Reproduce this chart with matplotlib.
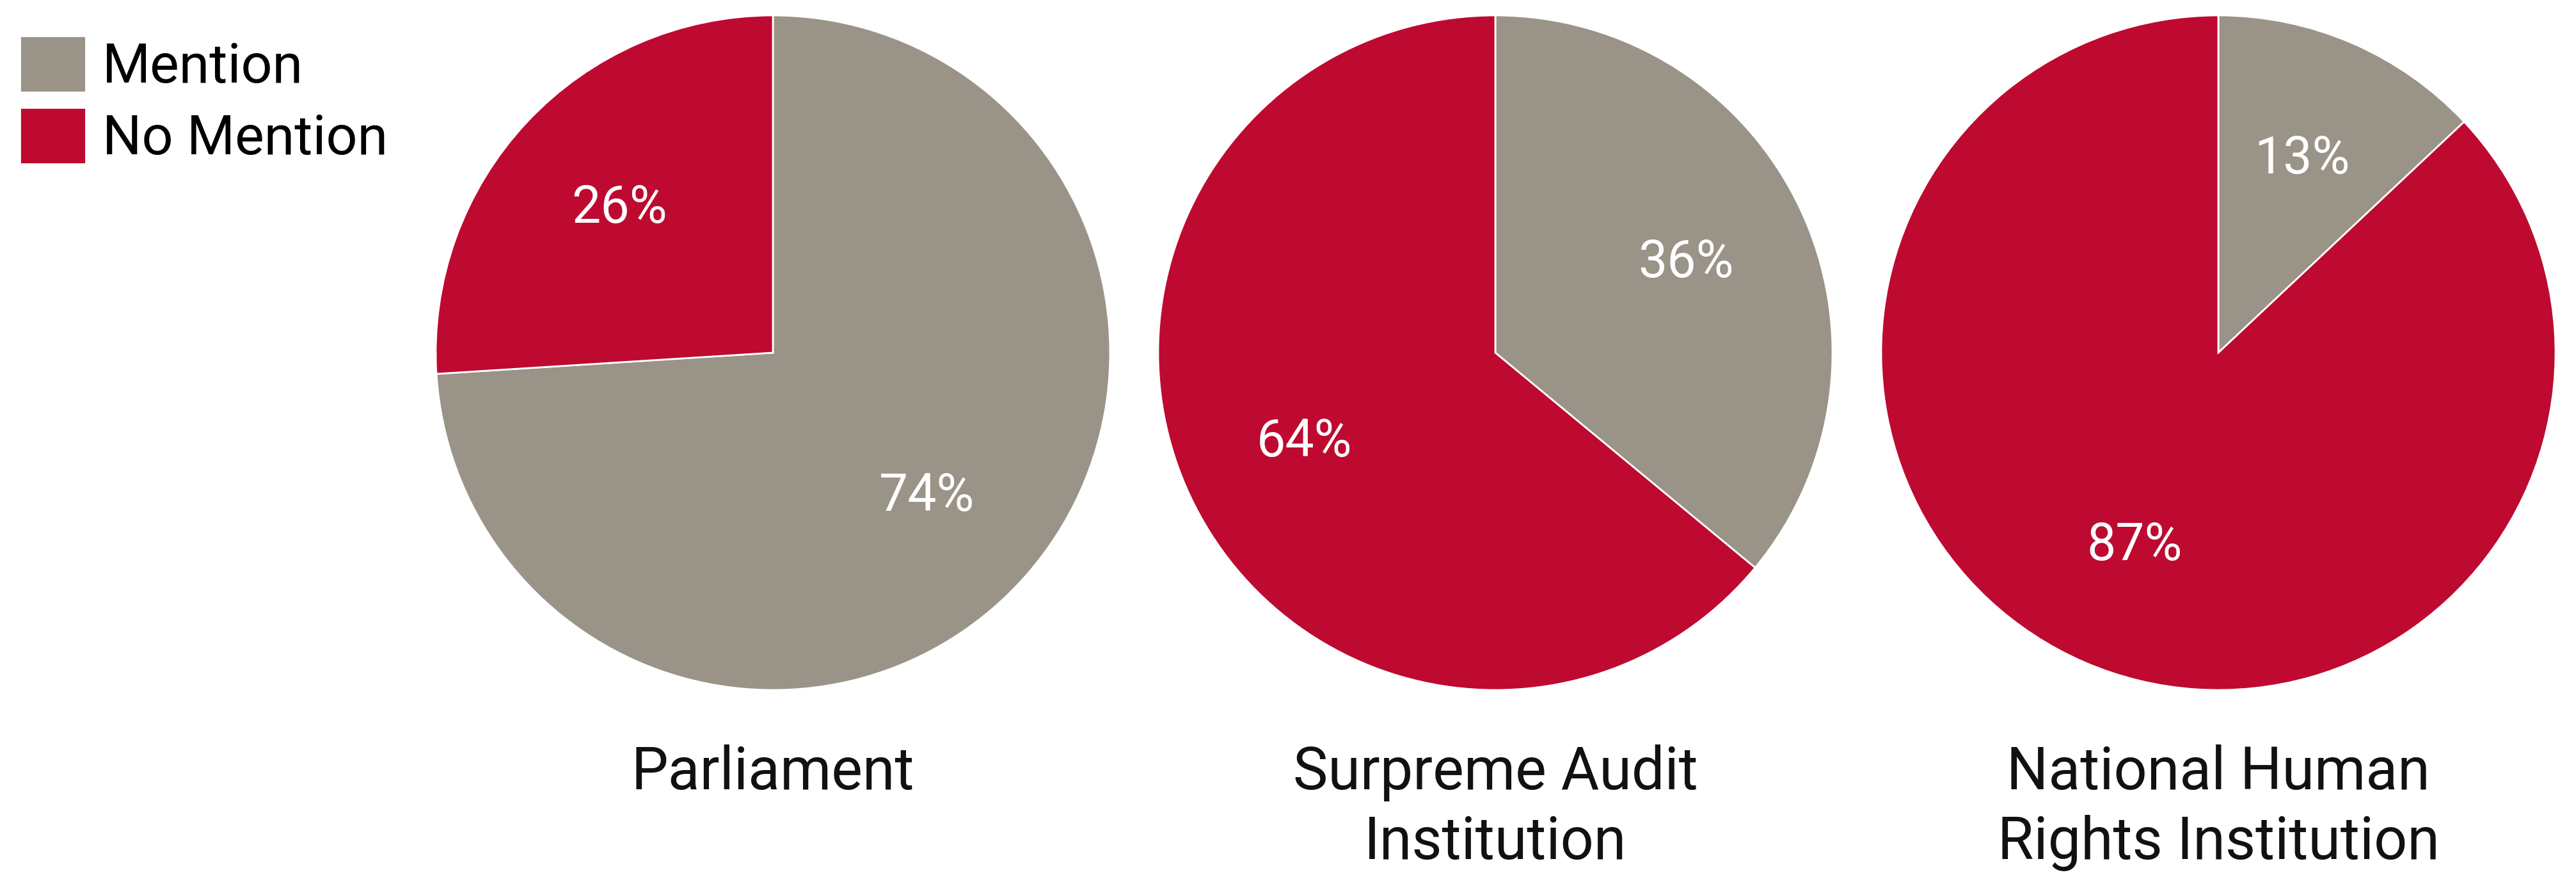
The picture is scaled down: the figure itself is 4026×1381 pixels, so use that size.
import matplotlib.pyplot as plt

plt.rcParams['font.family'] = ['Roboto', 'DejaVu Sans']

categories = ['Mention', 'No Mention']
institutions = ['Parliament', 'Surpreme Audit\nInstitution', 'National Human\nRights Institution']
mention = [74, 36, 13]
no_mention = [26, 64, 87]
colors = ['#9a9387', '#be0a30']

W, H = 4026, 1381
fig = plt.figure(figsize=(W / 100, H / 100), dpi=100)

# pie centres (pixels from left), common centre height and radius
centres = [1208, 2337, 3467]
cy, r = 551, 527

wedges0 = None
for i, name in enumerate(institutions):
    ax = fig.add_axes([(centres[i] - r) / W, (H - cy - r) / H, 2 * r / W, 2 * r / H])
    wedges, texts, autotexts = ax.pie(
        [mention[i], no_mention[i]], colors=colors, startangle=90, counterclock=False,
        autopct='%d%%', pctdistance=0.625,
        wedgeprops=dict(edgecolor='white', linewidth=2),
        textprops=dict(color='white', fontsize=58))
    ax.set_xlim(-1, 1)
    ax.set_ylim(-1, 1)
    if wedges0 is None:
        wedges0 = wedges
    fig.text(centres[i] / W, 1 - 1163 / H, name, ha='center', va='top',
             fontsize=66, color='#111111', linespacing=1.28)

fig.legend(wedges0, categories, loc='upper left', bbox_to_anchor=(31 / W, 1 - 56 / H),
           frameon=False, fontsize=62, handlelength=1.2, handleheight=1.2,
           handletextpad=0.3, labelspacing=0.25, borderpad=0, borderaxespad=0)

fig.savefig('out.png', dpi=100)
